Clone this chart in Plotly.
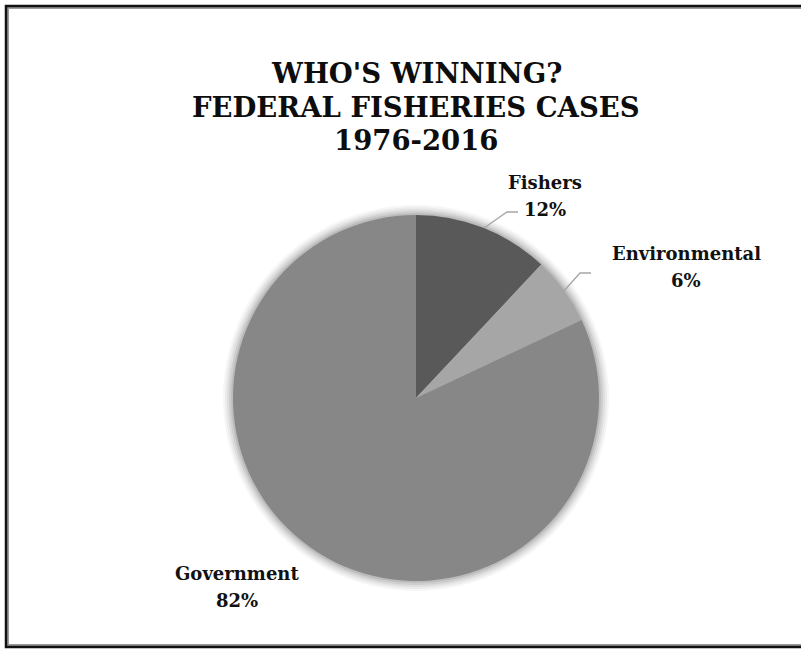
import plotly.graph_objects as go

# Case outcomes, 1976-2016
labels = ["Fishers", "Environmental", "Government"]
shares = [12, 6, 82]
colors = ["#595959", "#a6a6a6", "#878787"]

title_lines = ["WHO'S WINNING?", "FEDERAL FISHERIES CASES", "1976-2016"]

W, H = 801, 650
FONT = "DejaVu Serif"

# pie geometry in pixels
cx, cy, r = 416, 398, 183


def px(x):
    return x / W


def py(y):
    return 1 - y / H


fig = go.Figure()
fig.add_trace(go.Pie(
    labels=labels,
    values=shares,
    sort=False,
    direction="clockwise",
    rotation=0,
    marker=dict(colors=colors, line=dict(width=0)),
    textinfo="none",
    hoverinfo="label+percent",
    showlegend=False,
    domain=dict(x=[px(cx - r), px(cx + r)], y=[py(cy + r), py(cy - r)]),
))

shapes = []
# soft shadow around the pie
for k, op in [(10, 0.035), (8, 0.045), (6, 0.055), (4, 0.07), (2, 0.09)]:
    shapes.append(dict(type="circle", xref="paper", yref="paper", layer="below",
                       x0=px(cx - r - k), x1=px(cx + r + k),
                       y0=py(cy + r + k), y1=py(cy - r - k),
                       fillcolor=f"rgba(0,0,0,{op})", line=dict(width=0)))

# leader lines
leaders = [
    [(484, 228), (507, 212), (518, 212)],
    [(563, 292), (580, 273), (591, 273)],
]
for pts in leaders:
    path = "M " + " L ".join(f"{px(x)},{py(y)}" for x, y in pts)
    shapes.append(dict(type="path", xref="paper", yref="paper", path=path,
                       line=dict(color="#a6a6a6", width=1.3)))

# frame (open on the right)
shapes.append(dict(type="path", xref="paper", yref="paper",
                   path=f"M {px(810)},{py(8)} L {px(8)},{py(8)} L {px(8)},{py(645)} L {px(810)},{py(645)}",
                   line=dict(color="#9a9a9a", width=2)))
shapes.append(dict(type="path", xref="paper", yref="paper",
                   path=f"M {px(810)},{py(6)} L {px(6)},{py(6)} L {px(6)},{py(647)} L {px(810)},{py(647)}",
                   line=dict(color="#111111", width=2.5)))

annotations = []
for i, line in enumerate(title_lines):
    annotations.append(dict(text=f"<b>{line}</b>", x=px(416), y=py(73 + 33.5 * i),
                            xref="paper", yref="paper", showarrow=False,
                            xanchor="center", yanchor="middle",
                            font=dict(family=FONT, size=27.5, color="#0d0d0d")))

# slice labels: name on the first line, share on the second
label_pos = [(545, 182), (686, 253), (237, 573)]
for (x, y), lab, val in zip(label_pos, labels, shares):
    for j, txt in enumerate([lab, f"{val}%"]):
        annotations.append(dict(text=f"<b>{txt}</b>", x=px(x), y=py(y + 27 * j),
                                xref="paper", yref="paper", showarrow=False,
                                xanchor="center", yanchor="middle",
                                font=dict(family=FONT, size=18, color="#111111")))

fig.update_layout(
    width=W, height=H,
    margin=dict(l=0, r=0, t=0, b=0),
    paper_bgcolor="white",
    plot_bgcolor="white",
    shapes=shapes,
    annotations=annotations,
)

fig.write_html("out.html")
